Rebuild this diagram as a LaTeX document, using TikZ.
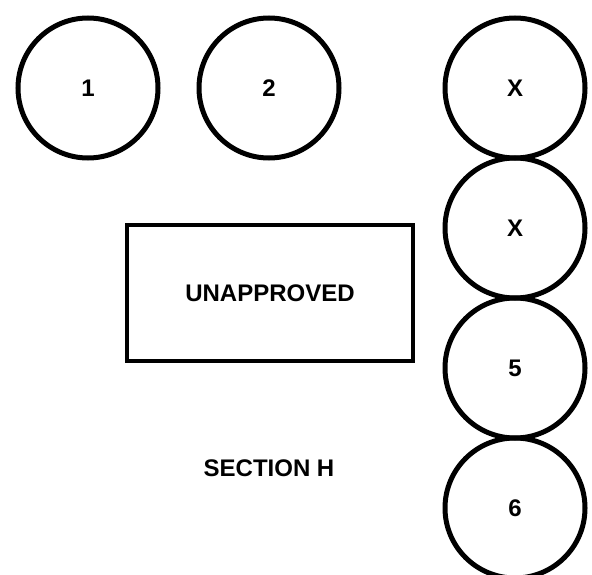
\documentclass[tikz,border=0pt]{standalone}
\usepackage{fontspec}
\setmainfont{Liberation Sans}

\begin{document}
\begin{tikzpicture}[x=1pt,y=1pt]
			\tikzstyle{every node}+=[inner sep=0pt,font=\fontsize{24}{28}\selectfont\bfseries]
			\tikzstyle{seat}=[circle,draw=black,line width=5pt,minimum size=140pt]
			\useasboundingbox (0,0) rectangle (592,-575);
			\clip (0,0) rectangle (592,-575);
			\node [seat] (one) at (88,-88) {1};
			\node [seat] (two) at (269,-88) {2};
			\node [seat] (xa) at (515,-88) {X};
			\node [seat] (xb) at (515,-228) {X};
			\node [seat] (five) at (515,-368) {5};
			\node [seat] (six) at (515,-508) {6};
			\node [draw=black,line width=4.5pt,minimum width=286pt,minimum height=136pt] (box) at (270,-293) {UNAPPROVED};
			\node (section) at (269,-468) {SECTION H};
		\end{tikzpicture}
\end{document}
